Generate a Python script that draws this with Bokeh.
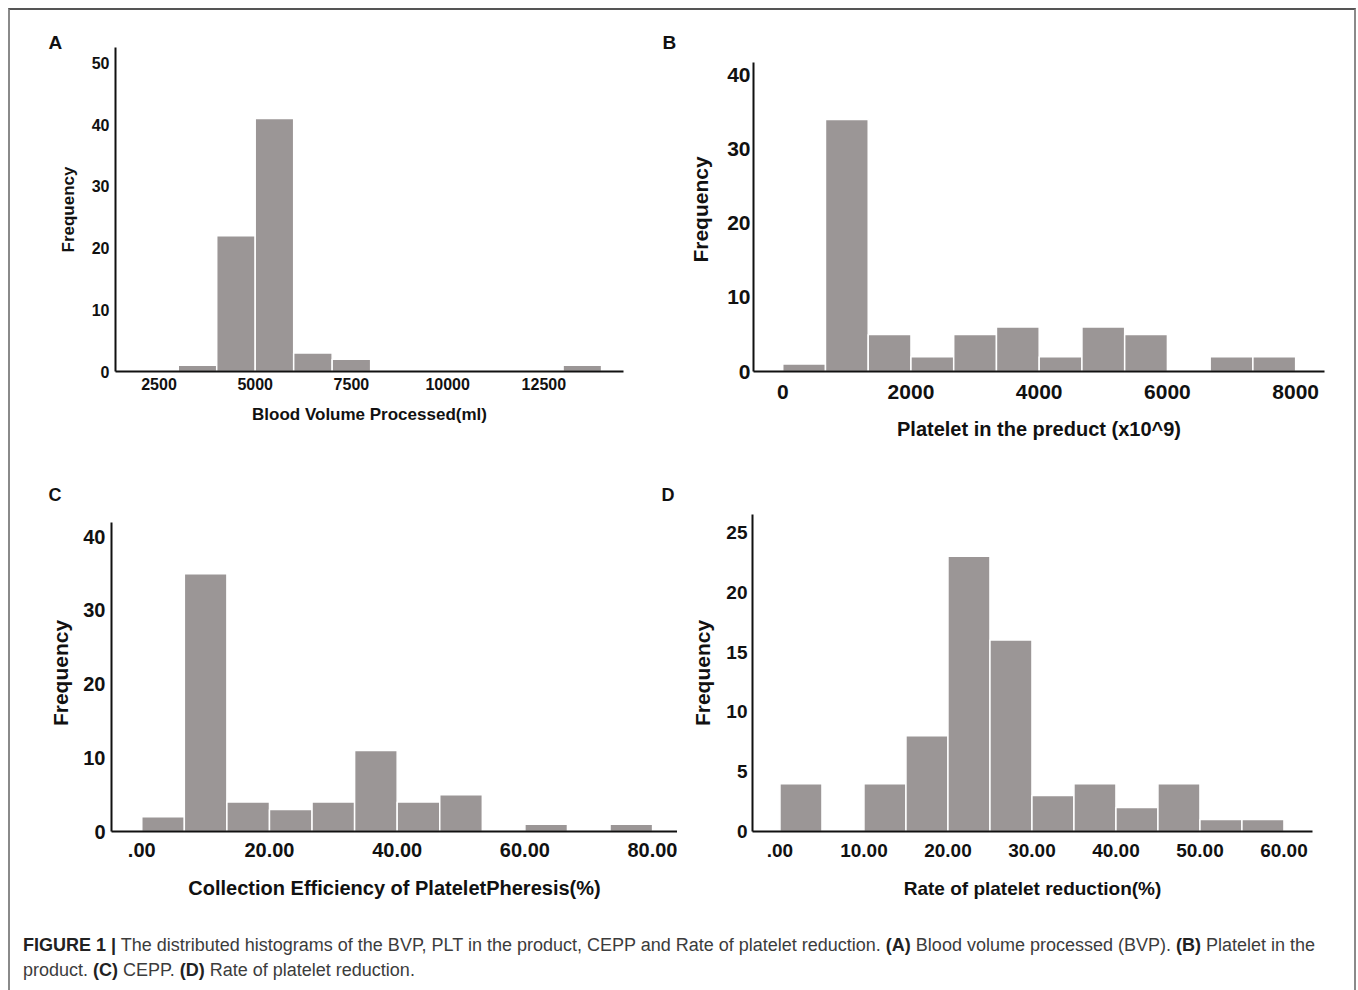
from bokeh.plotting import figure
from bokeh.layouts import column, row
from bokeh.models import Range1d, FixedTicker, Div, ColumnDataSource, Title
from bokeh.embed import file_html
from bokeh.resources import INLINE

# ---------------- data ----------------
# A: Blood volume processed (ml)
bvp_start = 3000
bvp_width = 1000
bvp_counts = [1, 22, 41, 3, 2, 0, 0, 0, 0, 0, 1]
bvp_xticks = [2500, 5000, 7500, 10000, 12500]
bvp_yticks = [0, 10, 20, 30, 40, 50]

# B: Platelet in the product (x10^9)
plt_start = 0
plt_width = 8000 / 12
plt_counts = [1, 34, 5, 2, 5, 6, 2, 6, 5, 0, 2, 2]
plt_xticks = [0, 2000, 4000, 6000, 8000]
plt_yticks = [0, 10, 20, 30, 40]

# C: Collection efficiency of plateletpheresis (%)
ce_start = 0
ce_width = 80 / 12
ce_counts = [2, 35, 4, 3, 4, 11, 4, 5, 0, 1, 0, 1]
ce_xticks = [0, 20, 40, 60, 80]
ce_xlabels = [".00", "20.00", "40.00", "60.00", "80.00"]
ce_yticks = [0, 10, 20, 30, 40]

# D: Rate of platelet reduction (%)
rr_start = 0
rr_width = 5
rr_counts = [4, 0, 4, 8, 23, 16, 3, 4, 2, 4, 1, 1]
rr_xticks = [0, 10, 20, 30, 40, 50, 60]
rr_xlabels = [".00", "10.00", "20.00", "30.00", "40.00", "50.00", "60.00"]
rr_yticks = [0, 5, 10, 15, 20, 25]

BAR = "#9b9696"
FONT = "Liberation Sans"
INK = "#111111"


def hist(width, height, xr, yr, borders, start, bw, counts, xticks, yticks,
         xlabel, tick_size, label_size, freq_size, xlabels=None,
         x_std=(6, 10), y_std=(5, 12), ybounds=None):
    bl, br, bt, bb = borders
    p = figure(width=width, height=height, x_range=Range1d(*xr), y_range=Range1d(*yr),
               output_backend="svg", toolbar_location=None,
               min_border_left=bl, min_border_right=br, min_border_top=bt, min_border_bottom=bb)
    left = [start + i * bw for i in range(len(counts))]
    right = [start + (i + 1) * bw for i in range(len(counts))]
    src = ColumnDataSource(dict(left=left, right=right, top=counts, bottom=[0] * len(counts)))
    p.quad(left="left", right="right", top="top", bottom="bottom", source=src,
           fill_color=BAR, line_color="white", line_width=1.5)
    p.outline_line_color = None
    p.grid.visible = False
    for ax in (p.xaxis[0], p.yaxis[0]):
        ax.major_tick_line_color = None
        ax.minor_tick_line_color = None
        ax.major_tick_out = 0
        ax.major_tick_in = 0
        ax.minor_tick_out = 0
        ax.minor_tick_in = 0
        ax.axis_line_width = 2
        ax.axis_line_color = INK
        ax.major_label_text_font = FONT
        ax.major_label_text_font_style = "bold"
        ax.major_label_text_color = INK
        ax.major_label_text_font_size = tick_size
        ax.axis_label_text_font = FONT
        ax.axis_label_text_font_style = "bold"
        ax.axis_label_text_color = INK
    p.xaxis.ticker = FixedTicker(ticks=xticks)
    p.yaxis.ticker = FixedTicker(ticks=yticks)
    if ybounds is not None:
        p.yaxis.bounds = ybounds
    if xlabels is not None:
        p.xaxis.major_label_overrides = {t: s for t, s in zip(xticks, xlabels)}
    p.xaxis.axis_label = xlabel
    p.yaxis.axis_label = "Frequency"
    p.xaxis.axis_label_text_font_size = label_size
    p.yaxis.axis_label_text_font_size = freq_size
    p.xaxis.major_label_standoff = x_std[0]
    p.xaxis.axis_label_standoff = x_std[1]
    p.yaxis.major_label_standoff = y_std[0]
    p.yaxis.axis_label_standoff = y_std[1]
    return p


def letter(p, txt, offset, standoff, size="19px"):
    p.title = Title(text=txt, align="left", offset=offset, standoff=standoff,
                    text_font=FONT, text_font_style="bold", text_font_size=size,
                    text_color=INK)


pA = hist(650, 445, (1370, 14570), (0, 52.5), (105, 37, 37, 84),
          bvp_start, bvp_width, bvp_counts, bvp_xticks, bvp_yticks,
          "Blood Volume Processed(ml)", "16px", "17px", "17px",
          x_std=(6, 12), y_std=(6, 11))
letter(pA, "A", -67, -11)

pB = hist(694, 445, (-456, 8450), (0, 43.7), (93, 30, 37, 84),
          plt_start, plt_width, plt_counts, plt_xticks, plt_yticks,
          "Platelet in the preduct (x10^9)", "21px", "20px", "21px",
          x_std=(13, 16), y_std=(3, 12), ybounds=(0, 41.66))
letter(pB, "B", -91, -11)

pC = hist(667, 457, (-4.74, 83.9), (0, 43.03), (101, 0, 59, 81),
          ce_start, ce_width, ce_counts, ce_xticks, ce_yticks,
          "Collection Efficiency of PlateletPheresis(%)", "20px", "20px", "21px",
          xlabels=ce_xlabels, x_std=(11, 17), y_std=(6, 8), ybounds=(0, 41.9))
# panel letters C and D both sit in the top margin of the left figure
letter(pC, "C" + "\u00a0" * 120 + "D", -63, 20, size="18px")

pD = hist(677, 457, (-3.27, 63.4), (0, 26.5), (75, 42, 59, 81),
          rr_start, rr_width, rr_counts, rr_xticks, rr_yticks,
          "Rate of platelet reduction(%)", "19px", "19px", "21px",
          xlabels=rr_xlabels, x_std=(12, 18), y_std=(5, 9))

caption_html = (
    '<div style="font-family: \'Liberation Sans\', Arial, sans-serif; font-size: 18px; '
    'color: #3c3c3c; line-height: 25px; padding: 16px 0 0 8px; white-space: nowrap;">'
    '<b style="color:#222">FIGURE 1 |</b> The distributed histograms of the BVP, PLT in the product, '
    'CEPP and Rate of platelet reduction. <b style="color:#222">(A)</b> Blood volume processed (BVP). '
    '<b style="color:#222">(B)</b> Platelet in the<br>product. <b style="color:#222">(C)</b> CEPP. '
    '<b style="color:#222">(D)</b> Rate of platelet reduction.</div>'
)
cap = Div(text=caption_html, width=1344, height=76)

layout = column(row(pA, pB), row(pC, pD), cap, width=1348,
                styles={"border-left": "2px solid #8a8a8a", "border-top": "2px solid #555555",
                        "border-right": "2px solid #8a8a8a", "margin-left": "8px",
                        "margin-top": "8px", "box-sizing": "border-box"})

open("out.html", "w").write(file_html(layout, INLINE))
